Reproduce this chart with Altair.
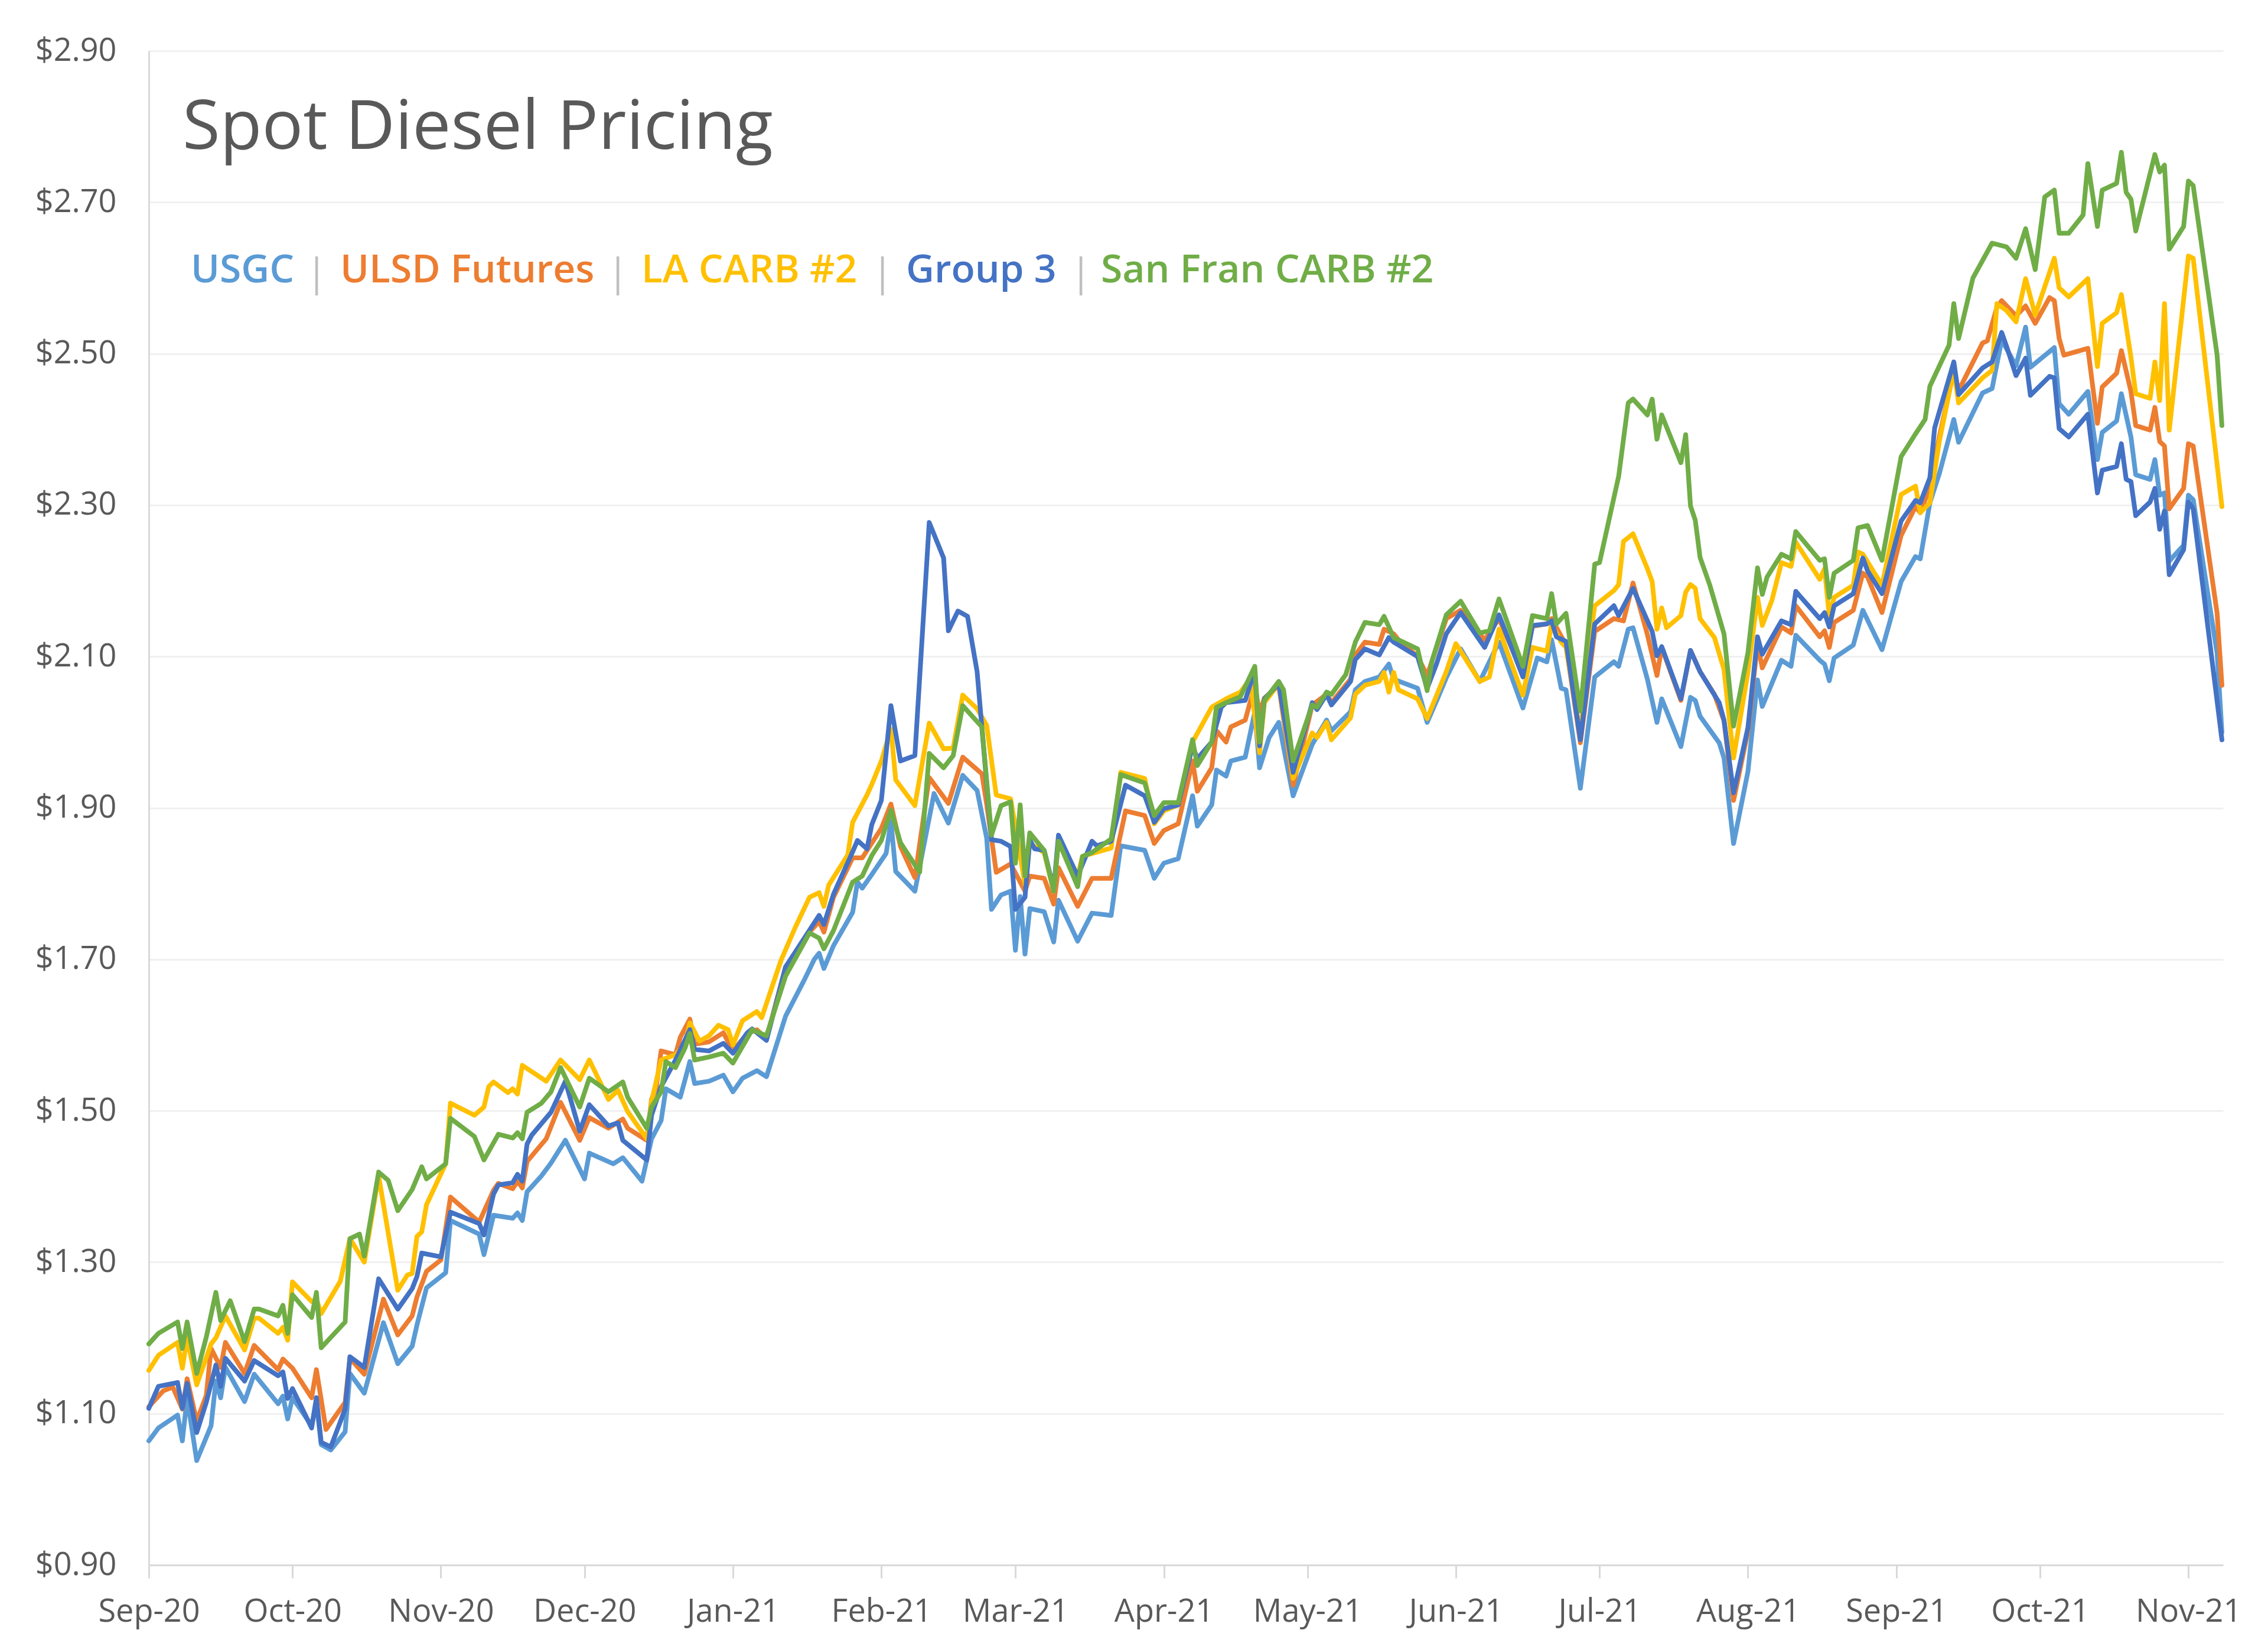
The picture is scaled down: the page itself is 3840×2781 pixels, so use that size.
import altair as alt
import pandas as pd

START = "2020-09-01"
END_DAY = 433.25

# (days since 2020-09-01, $/gal)
USGC = [(0,1.064),(2,1.081),(6,1.098),(7,1.064),(8,1.121),(10,1.038),(13,1.084),(14,1.143),(15,1.121),(16,1.161),
        (20,1.116),(22,1.152),(27,1.113),(28,1.123),(29,1.093),(30,1.121),(34,1.084),(35,1.115),(36,1.059),(38,1.052),
        (41,1.076),(42,1.153),(45,1.127),(49,1.220),(52,1.166),(55,1.189),(56,1.217),(58,1.266),(62,1.286),(63,1.355),
        (69,1.337),(70,1.310),(72,1.362),(76,1.358),(77,1.365),(78,1.355),(79,1.393),(82,1.414),(84,1.431),(87,1.461),
        (91,1.410),(92,1.444),(97,1.430),(99,1.438),(103,1.407),(105,1.463),(107,1.487),(108,1.529),(111,1.518),(112,1.541),
        (113,1.565),(114,1.536),(117,1.539),(120,1.547),(122,1.525),(124,1.543),(127,1.553),(129,1.545),(133,1.625),(137,1.674),
        (139,1.700),(140,1.708),(141,1.688),(143,1.718),(147,1.762),(148,1.802),(149,1.794),(151,1.812),(154,1.840),(155,1.882),
        (156,1.816),(160,1.790),(164,1.919),(167,1.880),(170,1.943),(173,1.923),(175,1.860),(176,1.766),(178,1.785),(180,1.790),
        (181,1.712),(182,1.783),(183,1.707),(184,1.767),(187,1.763),(189,1.723),(190,1.778),(194,1.724),(197,1.761),(201,1.758),
        (203,1.850),(208,1.844),(210,1.807),(212,1.827),(215,1.833),(218,1.916),(219,1.876),(222,1.904),(223,1.950),(225,1.942),
        (226,1.962),(229,1.967),(231,2.027),(232,1.953),(234,1.993),(236,2.013),(239,1.916),(243,1.984),(246,2.016),(247,2.002),
        (251,2.027),(252,2.056),(254,2.067),(257,2.073),(259,2.090),(260,2.070),(265,2.058),(267,2.013),(269,2.042),(271,2.072),
        (274,2.110),(278,2.067),(282,2.119),(287,2.032),(290,2.098),(292,2.093),(293,2.122),(295,2.058),(296,2.056),(299,1.926),
        (302,2.073),(306,2.093),(307,2.087),(309,2.136),(310,2.138),(313,2.070),(315,2.013),(316,2.044),(320,1.981),(322,2.046),
        (323,2.042),(324,2.021),(328,1.986),(329,1.966),(331,1.853),(334,1.948),(336,2.069),(337,2.034),(341,2.095),(343,2.087),
        (344,2.128),(349,2.095),(350,2.090),(351,2.068),(352,2.098),(356,2.115),(358,2.161),(362,2.109),(366,2.199),(369,2.232),
        (370,2.229),(372,2.303),(374,2.342),(377,2.413),(378,2.383),(383,2.448),(385,2.454),(387,2.518),(390,2.484),(392,2.535),
        (393,2.482),(398,2.508),(399,2.434),(401,2.420),(405,2.450),(407,2.360),(408,2.396),(411,2.411),(412,2.447),(414,2.390),
        (415,2.340),(418,2.334),(419,2.360),(420,2.313),(421,2.316),(422,2.226),(425,2.247),(426,2.313),(427,2.307),(432,2.104),
        (433,2.000)]

ULSD = [(0,1.109),(3,1.130),(5,1.135),(7,1.106),(8,1.146),(10,1.090),(12,1.124),(13,1.186),(15,1.161),(16,1.194),
        (20,1.153),(22,1.190),(27,1.158),(28,1.172),(30,1.160),(34,1.121),(35,1.158),(37,1.079),(41,1.115),(42,1.173),
        (45,1.152),(49,1.251),(52,1.204),(55,1.229),(56,1.254),(58,1.288),(61,1.303),(63,1.386),(69,1.353),(72,1.395),
        (73,1.404),(76,1.397),(77,1.407),(78,1.398),(79,1.433),(83,1.463),(86,1.511),(90,1.461),(92,1.491),(96,1.477),
        (99,1.489),(100,1.477),(104,1.461),(105,1.515),(106,1.532),(107,1.579),(110,1.574),(111,1.597),(113,1.621),(114,1.588),
        (117,1.591),(120,1.603),(122,1.579),(125,1.602),(127,1.607),(129,1.595),(133,1.690),(138,1.736),(140,1.750),(141,1.736),
        (143,1.782),(147,1.834),(149,1.834),(153,1.873),(155,1.905),(157,1.849),(160,1.808),(163,1.940),(167,1.906),(170,1.967),
        (174,1.945),(175,1.905),(177,1.815),(180,1.826),(183,1.790),(184,1.810),(187,1.807),(189,1.773),(190,1.821),(194,1.770),
        (197,1.807),(201,1.807),(204,1.896),(208,1.890),(210,1.853),(212,1.870),(215,1.879),(218,1.962),(219,1.922),(222,1.953),
        (223,2.002),(225,1.987),(226,2.007),(229,2.016),(231,2.062),(232,2.025),(233,2.045),(236,2.062),(239,1.930),(243,2.036),
        (246,2.050),(247,2.039),(251,2.070),(252,2.102),(254,2.119),(257,2.116),(258,2.136),(260,2.130),(261,2.122),(265,2.100),
        (267,2.075),(271,2.150),(274,2.161),(279,2.122),(282,2.150),(287,2.077),(289,2.140),(292,2.143),(293,2.150),(296,2.115),
        (299,1.986),(302,2.133),(306,2.150),(308,2.147),(310,2.197),(313,2.129),(315,2.075),(316,2.112),(320,2.042),(322,2.108),
        (324,2.080),(327,2.050),(329,2.015),(331,1.910),(334,2.001),(336,2.117),(337,2.085),(341,2.139),(343,2.131),(344,2.167),
        (349,2.126),(350,2.134),(351,2.112),(352,2.145),(356,2.161),(358,2.210),(359,2.205),(362,2.158),(366,2.260),(369,2.298),
        (370,2.290),(372,2.323),(374,2.391),(377,2.478),(378,2.451),(383,2.514),(384,2.517),(386,2.561),(387,2.570),(390,2.550),
        (392,2.563),(394,2.540),(397,2.574),(398,2.570),(399,2.520),(400,2.498),(405,2.507),(407,2.408),(408,2.456),(411,2.474),
        (412,2.504),(414,2.450),(415,2.405),(418,2.399),(419,2.429),(420,2.384),(421,2.378),(422,2.295),(425,2.322),(426,2.381),
        (427,2.378),(432,2.157),(433,2.062)]

LA_CARB = [(0,1.157),(2,1.177),(6,1.194),(7,1.160),(8,1.200),(10,1.138),(13,1.192),(14,1.200),(16,1.229),(20,1.184),
           (22,1.226),(23,1.226),(27,1.206),(28,1.214),(29,1.197),(30,1.274),(34,1.248),(35,1.251),(36,1.232),(40,1.275),
           (42,1.331),(45,1.300),(48,1.414),(52,1.263),(54,1.283),(55,1.285),(56,1.334),(57,1.340),(58,1.376),(62,1.430),
           (63,1.510),(68,1.494),(70,1.505),(71,1.532),(72,1.538),(75,1.524),(76,1.529),(77,1.522),(78,1.560),(83,1.539),
           (86,1.567),(90,1.541),(92,1.567),(96,1.515),(98,1.527),(100,1.499),(104,1.463),(105,1.512),(107,1.567),(110,1.574),
           (112,1.588),(113,1.616),(115,1.592),(117,1.599),(119,1.613),(121,1.607),(122,1.587),(124,1.619),(127,1.631),(128,1.623),
           (132,1.698),(135,1.742),(138,1.782),(140,1.788),(141,1.770),(142,1.798),(146,1.838),(147,1.881),(150,1.917),(151,1.931),
           (153,1.962),(155,2.004),(156,1.937),(160,1.903),(163,2.012),(166,1.978),(168,1.979),(170,2.049),(173,2.031),(175,2.009),
           (177,1.917),(180,1.912),(183,1.799),(184,1.853),(187,1.841),(189,1.790),(190,1.859),(194,1.810),(195,1.836),(201,1.847),
           (203,1.947),(208,1.939),(210,1.879),(212,1.896),(215,1.904),(218,1.987),(222,2.033),(225,2.044),(228,2.053),(230,2.070),
           (232,1.973),(233,2.039),(236,2.064),(239,1.939),(243,1.999),(244,1.993),(246,2.013),(247,1.990),(251,2.019),(252,2.050),
           (254,2.062),(257,2.067),(258,2.079),(259,2.053),(260,2.079),(261,2.056),(265,2.044),(267,2.018),(269,2.049),(271,2.080),
           (273,2.117),(278,2.067),(280,2.073),(282,2.136),(287,2.049),(289,2.112),(292,2.107),(293,2.143),(295,2.119),(296,2.112),
           (299,1.997),(301,2.122),(302,2.167),(306,2.187),(307,2.195),(308,2.252),(310,2.262),(313,2.216),(314,2.199),(315,2.136),
           (316,2.164),(317,2.138),(320,2.154),(321,2.185),(322,2.195),(323,2.190),(324,2.150),(327,2.125),(329,2.083),(331,1.966),
           (334,2.079),(336,2.178),(337,2.141),(339,2.174),(341,2.224),(343,2.219),(344,2.251),(349,2.202),(350,2.216),(351,2.153),
           (352,2.178),(356,2.194),(357,2.238),(358,2.235),(362,2.194),(366,2.314),(369,2.325),(370,2.290),(372,2.303),(374,2.385),
           (377,2.478),(378,2.435),(383,2.468),(385,2.478),(386,2.566),(388,2.557),(390,2.542),(392,2.599),(394,2.551),(398,2.626),
           (399,2.587),(401,2.575),(405,2.599),(407,2.483),(408,2.540),(411,2.554),(412,2.578),(414,2.495),(415,2.447),(418,2.441),
           (419,2.489),(420,2.438),(421,2.566),(422,2.399),(426,2.629),(427,2.626),(431,2.408),(433,2.298)]

GROUP3 = [(0,1.107),(2,1.136),(6,1.141),(7,1.107),(8,1.140),(10,1.075),(12,1.115),(14,1.164),(15,1.136),(16,1.173),
          (20,1.143),(22,1.170),(27,1.150),(28,1.155),(29,1.120),(30,1.133),(34,1.081),(35,1.121),(36,1.062),(38,1.056),
          (41,1.106),(42,1.175),(45,1.161),(48,1.278),(52,1.238),(55,1.265),(56,1.281),(57,1.312),(61,1.307),(63,1.366),
          (69,1.351),(70,1.336),(72,1.390),(73,1.402),(76,1.405),(77,1.416),(78,1.407),(79,1.456),(80,1.468),(84,1.498),
          (87,1.539),(90,1.473),(92,1.508),(96,1.480),(98,1.484),(99,1.461),(104,1.435),(105,1.494),(107,1.532),(110,1.567),
          (113,1.607),(114,1.581),(117,1.579),(120,1.589),(122,1.576),(125,1.603),(126,1.608),(129,1.593),(133,1.690),(140,1.758),
          (141,1.746),(143,1.786),(147,1.842),(148,1.857),(150,1.846),(151,1.878),(153,1.910),(155,2.035),(157,1.962),(160,1.969),
          (163,2.277),(166,2.230),(167,2.134),(169,2.160),(171,2.153),(173,2.080),(176,1.858),(178,1.856),(180,1.849),(181,1.766),
          (183,1.782),(184,1.858),(185,1.846),(187,1.844),(189,1.793),(190,1.864),(194,1.810),(197,1.856),(198,1.850),(201,1.856),
          (204,1.930),(208,1.916),(210,1.881),(212,1.899),(215,1.904),(218,1.982),(219,1.965),(222,1.987),(224,2.033),(225,2.039),
          (229,2.042),(231,2.082),(232,1.982),(233,2.044),(236,2.064),(239,1.947),(243,2.039),(244,2.030),(246,2.050),(247,2.036),
          (251,2.067),(252,2.096),(254,2.110),(257,2.102),(259,2.125),(260,2.119),(265,2.100),(267,2.058),(269,2.091),(271,2.130),
          (274,2.158),(279,2.112),(282,2.155),(287,2.073),(289,2.141),(292,2.143),(293,2.147),(294,2.126),(296,2.120),(299,1.990),
          (302,2.143),(306,2.167),(307,2.154),(310,2.190),(314,2.133),(315,2.101),(316,2.113),(320,2.044),(322,2.108),(324,2.080),
          (328,2.039),(329,2.016),(331,1.920),(334,2.006),(336,2.126),(337,2.103),(341,2.147),(343,2.142),(344,2.186),(349,2.150),
          (350,2.158),(351,2.139),(352,2.167),(356,2.183),(358,2.230),(359,2.213),(362,2.183),(366,2.279),(369,2.306),(370,2.303),
          (372,2.336),(373,2.402),(377,2.489),(378,2.446),(383,2.481),(385,2.489),(387,2.528),(388,2.510),(390,2.471),(392,2.494),
          (393,2.445),(397,2.470),(398,2.468),(399,2.401),(401,2.390),(405,2.420),(407,2.316),(408,2.346),(411,2.351),(412,2.381),
          (413,2.334),(414,2.331),(415,2.286),(418,2.304),(419,2.322),(420,2.268),(421,2.292),(422,2.208),(425,2.241),(426,2.304),
          (427,2.295),(433,1.990)]

SAN_FRAN = [(0,1.192),(2,1.206),(6,1.221),(7,1.186),(8,1.221),(10,1.153),(12,1.201),(14,1.260),(15,1.223),(17,1.249),
            (20,1.195),(22,1.238),(23,1.238),(27,1.229),(28,1.243),(29,1.206),(30,1.257),(34,1.227),(35,1.260),(36,1.187),
            (41,1.221),(42,1.331),(44,1.337),(45,1.308),(48,1.419),(50,1.408),(52,1.368),(55,1.396),(57,1.426),(58,1.410),
            (62,1.430),(63,1.490),(68,1.466),(70,1.435),(73,1.469),(76,1.464),(77,1.471),(78,1.463),(79,1.498),(82,1.510),
            (84,1.525),(86,1.557),(90,1.505),(92,1.543),(96,1.525),(99,1.538),(100,1.518),(104,1.477),(105,1.505),(107,1.525),
            (108,1.565),(110,1.557),(112,1.583),(113,1.602),(114,1.567),(117,1.571),(120,1.576),(122,1.563),(126,1.607),(129,1.599),
            (133,1.678),(138,1.735),(140,1.728),(141,1.714),(143,1.738),(147,1.802),(149,1.810),(151,1.837),(153,1.857),(155,1.897),
            (157,1.854),(161,1.815),(163,1.972),(166,1.953),(168,1.969),(170,2.035),(174,2.007),(176,1.864),(178,1.903),(180,1.908),
            (181,1.827),(182,1.904),(183,1.810),(184,1.867),(187,1.844),(189,1.790),(190,1.856),(194,1.796),(195,1.836),(197,1.841),
            (201,1.859),(203,1.944),(208,1.933),(210,1.890),(212,1.907),(215,1.907),(218,1.990),(219,1.956),(222,1.987),(223,2.033),
            (225,2.039),(228,2.047),(231,2.087),(232,1.987),(233,2.042),(236,2.067),(237,2.056),(239,1.962),(243,2.036),(244,2.033),
            (246,2.053),(247,2.050),(250,2.076),(252,2.119),(254,2.145),(257,2.142),(258,2.153),(259,2.139),(260,2.125),(265,2.110),
            (267,2.055),(268,2.094),(271,2.155),(274,2.173),(278,2.131),(280,2.134),(282,2.176),(287,2.087),(289,2.154),(292,2.150),
            (293,2.183),(294,2.143),(296,2.157),(299,2.028),(302,2.222),(303,2.224),(307,2.338),(309,2.435),(310,2.440),(313,2.419),
            (314,2.440),(315,2.387),(316,2.419),(320,2.356),(321,2.393),(322,2.299),(323,2.280),(324,2.231),(326,2.195),(329,2.130),
            (331,2.008),(334,2.105),(336,2.217),(337,2.182),(338,2.205),(341,2.235),(343,2.229),(344,2.265),(349,2.227),(350,2.229),
            (351,2.178),(352,2.210),(356,2.227),(357,2.270),(359,2.273),(362,2.227),(366,2.364),(369,2.394),(371,2.413),(372,2.457),
            (376,2.511),(377,2.566),(378,2.520),(381,2.600),(385,2.646),(388,2.641),(390,2.626),(392,2.665),(394,2.611),(396,2.707),
            (398,2.716),(399,2.659),(401,2.659),(404,2.683),(405,2.751),(407,2.668),(408,2.716),(411,2.725),(412,2.766),(413,2.713),
            (414,2.704),(415,2.662),(419,2.763),(420,2.740),(421,2.749),(422,2.638),(425,2.668),(426,2.728),(427,2.722),(432,2.498),
            (433,2.405)]

SERIES_NAMES = ["USGC", "ULSD Futures", "LA CARB #2", "Group 3", "San Fran CARB #2"]
SERIES_DATA = [USGC, ULSD, LA_CARB, GROUP3, SAN_FRAN]
COLORS = ["#5B9BD5", "#ED7D31", "#FFC000", "#4472C4", "#70AD47"]
Y_TICKS = [0.9, 1.1, 1.3, 1.5, 1.7, 1.9, 2.1, 2.3, 2.5, 2.7, 2.9]
MONTH_TICKS = ["2020-09-01", "2020-10-01", "2020-11-01", "2020-12-01", "2021-01-01", "2021-02-01",
               "2021-03-01", "2021-04-01", "2021-05-01", "2021-06-01", "2021-07-01", "2021-08-01",
               "2021-09-01", "2021-10-01", "2021-11-01"]
TITLE = "Spot Diesel Pricing"

FONT = "Open Sans"
GRAY = "#595959"

t0 = pd.Timestamp(START)
def ms(ts):
    return int(pd.Timestamp(ts).value // 10**6)

rows = []
for name, pts in zip(SERIES_NAMES, SERIES_DATA):
    for d, v in pts:
        rows.append({"date": (t0 + pd.Timedelta(days=d)).strftime("%Y-%m-%d"), "price": v, "series": name})
df = pd.DataFrame(rows)

x_enc = alt.X(
    "date:T",
    scale=alt.Scale(type="utc", domain=[ms(t0), ms(t0) + int(END_DAY * 86400000)]),
    axis=alt.Axis(values=[ms(m) for m in MONTH_TICKS], labelExpr="utcFormat(datum.value, '%b-%y')", title=None,
                  labelFlush=False, labelOverlap=False, labelLimit=400, grid=False, ticks=True, tickSize=22,
                  tickColor="#D9D9D9", tickWidth=3, domainColor="#D9D9D9", domainWidth=3,
                  labelFontSize=54, labelColor=GRAY, labelFont=FONT, labelPadding=30),
)
y_enc = alt.Y(
    "price:Q",
    scale=alt.Scale(domain=[0.9, 2.9], nice=False, zero=False),
    axis=alt.Axis(values=Y_TICKS, format="$.2f", title=None, ticks=False, domain=True,
                  domainColor="#D9D9D9", domainWidth=3, grid=True, gridColor="#F0F0F0", gridWidth=3,
                  labelFontSize=54, labelColor=GRAY, labelFont=FONT, labelPadding=55),
)

layers = []
for name, color in zip(SERIES_NAMES, COLORS):
    layers.append(
        alt.Chart(df).transform_filter(alt.datum.series == name)
        .mark_line(color=color, strokeWidth=8, strokeJoin="round", strokeCap="round")
        .encode(x=x_enc, y=y_enc)
    )

def text_layer(txt, x, y, size, color, weight="normal", align="left"):
    return alt.Chart(pd.DataFrame({"t": [txt]})).mark_text(
        align=align, baseline="alphabetic", font=FONT, fontSize=size, fontWeight=weight, color=color
    ).encode(text="t:N", x=alt.value(x), y=alt.value(y))

# title
layers.append(text_layer(TITLE, 57, 166, 116, GRAY))

# in-chart legend
LEG_X = [71, 324, 834, 1282, 1612]
SEP_X = [284, 794, 1242, 1578]
LEG_Y = 392
for name, color, x in zip(SERIES_NAMES, COLORS, LEG_X):
    layers.append(text_layer(name, x, LEG_Y, 66, color, weight=600))
for x in SEP_X:
    layers.append(text_layer("|", x, LEG_Y + 6, 66, "#BFBFBF", align="center"))

chart = alt.layer(*layers).properties(
    width=3512, height=2563,
    autosize=alt.AutoSizeParams(type="none"),
    padding={"left": 244, "top": 78, "right": 60, "bottom": 150},
    background="white",
).configure_view(strokeOpacity=0)

chart.save("out.html", embed_options={"renderer": "svg", "actions": False})
